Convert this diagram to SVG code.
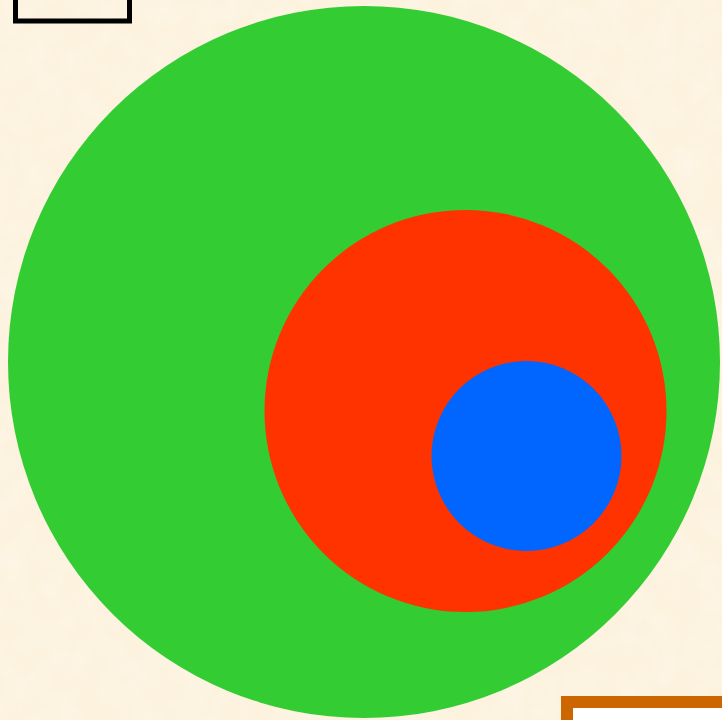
<svg xmlns="http://www.w3.org/2000/svg" width="722" height="720" viewBox="0 0 722 720">
<defs>
<filter id="paper" x="0" y="0" width="100%" height="100%">
<feTurbulence type="fractalNoise" baseFrequency="0.04" numOctaves="3" seed="4" result="n"/>
<feColorMatrix in="n" type="matrix" values="0 0 0 0 0.99  0 0 0 0 0.93  0 0 0 0 0.82  0 0 0 -1.2 0.75" result="c"/>
<feComposite in="c" in2="SourceGraphic" operator="in"/>
</filter>
<style>
.frame{fill:none;stroke:#000;stroke-width:5}
.box{fill:#fff;stroke:#CC6600;stroke-width:12}
</style>
</defs>
<rect x="0" y="0" width="722" height="720" fill="#FCF2DE"/>
<rect x="0" y="0" width="722" height="720" fill="#fff" filter="url(#paper)"/>
<g id="frame-top-left"><rect class="frame" x="15.5" y="-20" width="114" height="41"/></g>
<g id="green"><circle cx="364" cy="362" r="356" fill="#33CC33"/></g>
<g id="red"><circle cx="465.5" cy="411" r="201" fill="#FF3300"/></g>
<g id="blue"><circle cx="526.5" cy="456" r="95" fill="#0066FF"/></g>
<g id="box-bottom-right"><rect class="box" x="567" y="702" width="200" height="60"/></g>
<g id="connectors"/>
</svg>
